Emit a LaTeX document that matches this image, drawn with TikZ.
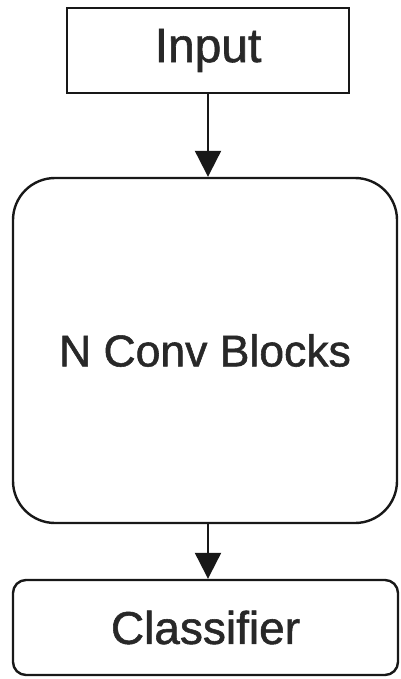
\documentclass[tikz,border=0pt]{standalone}
\usepackage{fontspec}
\setmainfont{Liberation Sans}[BoldFont={Liberation Sans}, BoldFeatures={FakeBold=1.2}]
\usetikzlibrary{positioning, arrows.meta}
\tikzstyle{flow} = [x = 1pt, y = -1pt]
\definecolor{lineColor}{RGB}{24,24,24}
\definecolor{textColor}{RGB}{40,40,40}
\tikzstyle{boxStyle} = [draw=lineColor, line width=2.4pt, fill=white, text=textColor, inner sep=0pt]
\tikzstyle{flowArrow} = [draw=lineColor, line width=2.2pt, -{Triangle[length=26pt, width=26pt]}]
\newcommand{\boxFont}[1]{\fontsize{#1}{#1}\selectfont\bfseries}

\begin{document}
\begin{tikzpicture}[flow]
  \useasboundingbox (0,0) rectangle (400,679);
  \node [boxStyle, minimum width=282pt, minimum height=85pt, font=\boxFont{48pt}] (input) at (208, 50.5) {Input};
  \node [boxStyle, rounded corners=42pt, minimum width=384pt, minimum height=345pt, font=\boxFont{44.5pt}] (blocks) at (205, 350.5) {N Conv Blocks};
  \node [boxStyle, rounded corners=13pt, minimum width=385pt, minimum height=95pt, font=\boxFont{46pt}] (classifier) at (205.5, 627.5) {Classifier};

  \draw [flowArrow] (input.south) -- (input.south |- blocks.north);
  \draw [flowArrow] (input.south |- blocks.south) -- (input.south |- classifier.north);
\end{tikzpicture}
\end{document}
